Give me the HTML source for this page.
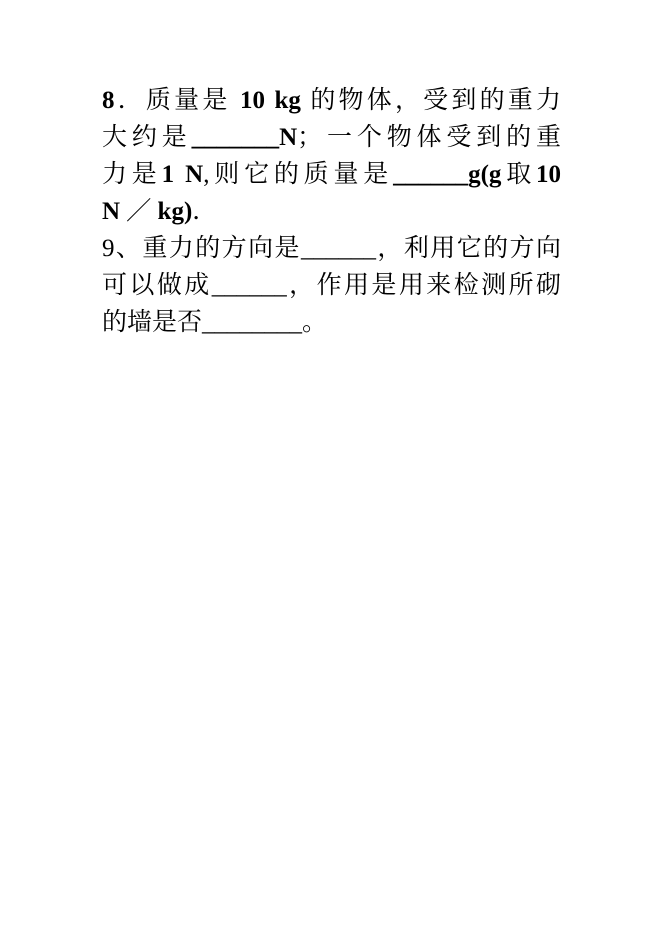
<!DOCTYPE html>
<html><head><meta charset="utf-8"><style>
body{margin:0;background:#fff;width:661px;height:935px;position:relative;overflow:hidden}
.l{position:absolute;left:102px;width:459px;font-family:"Liberation Serif","Noto Serif CJK SC",serif;font-size:25px;line-height:37px;white-space:nowrap;color:#000}
.j{text-align:justify;text-align-last:justify}
b{font-weight:bold}
</style></head><body>
<div class="l j" style="top:82px"><b>8</b>．质量是 <b>10 kg</b> 的物体，受到的重力</div>
<div class="l j" style="top:119px">大约是<b>_______N</b>；一个物体受到的重</div>
<div class="l j" style="top:156px">力是<b>1&nbsp;N</b>,则它的质量是<b>______g(g</b>取<b>10</b></div>
<div class="l" style="top:193px"><b>N ／ kg)</b>．</div>
<div class="l j" style="top:230px">9、重力的方向是______，利用它的方向</div>
<div class="l j" style="top:267px">可以做成______，作用是用来检测所砌</div>
<div class="l" style="top:304px">的墙是否________。</div>
</body></html>
